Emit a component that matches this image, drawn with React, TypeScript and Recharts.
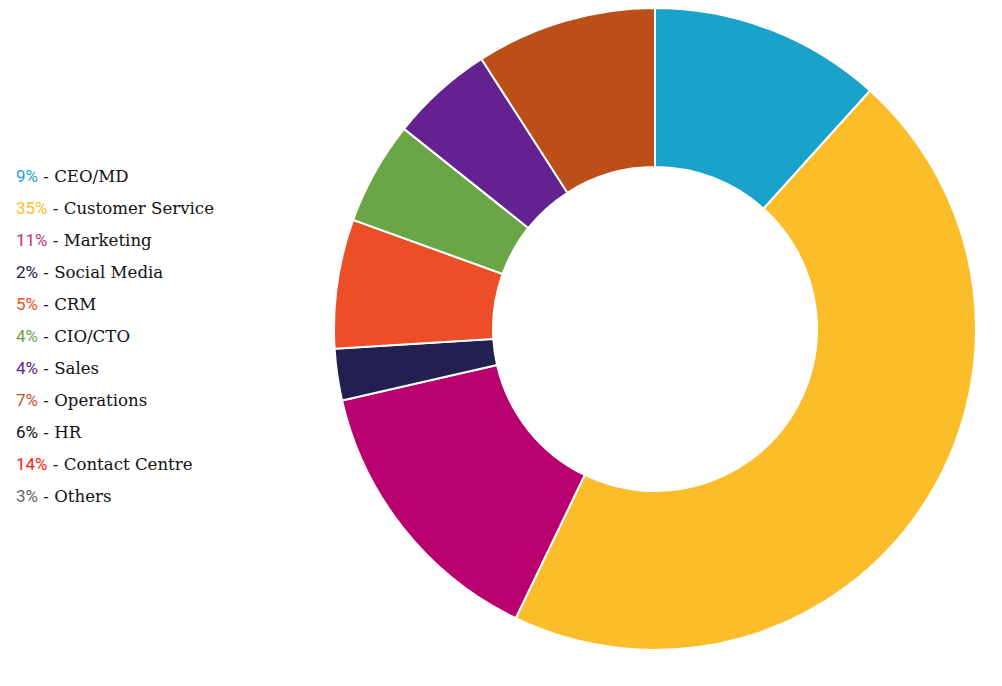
import React from "react";
import { PieChart, Pie, Cell } from "recharts";

// roles shown in the legend, with their share (%)
const roles = [
  "CEO/MD",
  "Customer Service",
  "Marketing",
  "Social Media",
  "CRM",
  "CIO/CTO",
  "Sales",
  "Operations",
  "HR",
  "Contact Centre",
  "Others",
];
const shares = [9, 35, 11, 2, 5, 4, 4, 7, 6, 14, 3];
const sliceColors = [
  "#1aa3ca",
  "#fcbd2b",
  "#b8006f",
  "#222051",
  "#ec4f28",
  "#6aa645",
  "#642290",
  "#bb4f17",
];
const legendColors = [
  "#1aa3ca",
  "#fcbd2b",
  "#c0338a",
  "#222051",
  "#ec4f28",
  "#6aa645",
  "#642290",
  "#bb5a24",
  "#111111",
  "#ff1a1a",
  "#666666",
];
// the donut only draws the first eight roles
const drawnCount = 8;

const legendItems = roles.map((name, i) => ({
  name,
  share: shares[i],
  color: legendColors[i],
}));
const pieData = roles
  .slice(0, drawnCount)
  .map((name, i) => ({ name, value: shares[i] }));

const RoleLegend = () => (
  <div
    style={{
      position: "absolute",
      left: 8,
      top: 152,
      fontFamily: "'DejaVu Serif', serif",
      fontSize: 16.6,
    }}
  >
    {legendItems.map((item) => (
      <div
        key={item.name}
        style={{ height: 32, lineHeight: "32px", color: "#111", whiteSpace: "nowrap" }}
      >
        <span style={{ color: item.color, fontFamily: "Roboto, sans-serif", fontSize: 17 }}>
          {item.share}%
        </span>
        {" - " + item.name}
      </div>
    ))}
  </div>
);

export default function App() {
  return (
    <div style={{ position: "relative", width: 986, height: 670 }}>
      <PieChart width={986} height={670} margin={{ top: 0, right: 0, bottom: 0, left: 0 }}>
        <Pie
          data={pieData}
          dataKey="value"
          nameKey="name"
          cx={647}
          cy={321}
          innerRadius={162}
          outerRadius={321}
          startAngle={90}
          endAngle={-270}
          stroke="#ffffff"
          strokeWidth={2}
          isAnimationActive={false}
        >
          {pieData.map((d, i) => (
            <Cell key={d.name} fill={sliceColors[i]} />
          ))}
        </Pie>
      </PieChart>
      <RoleLegend />
    </div>
  );
}
